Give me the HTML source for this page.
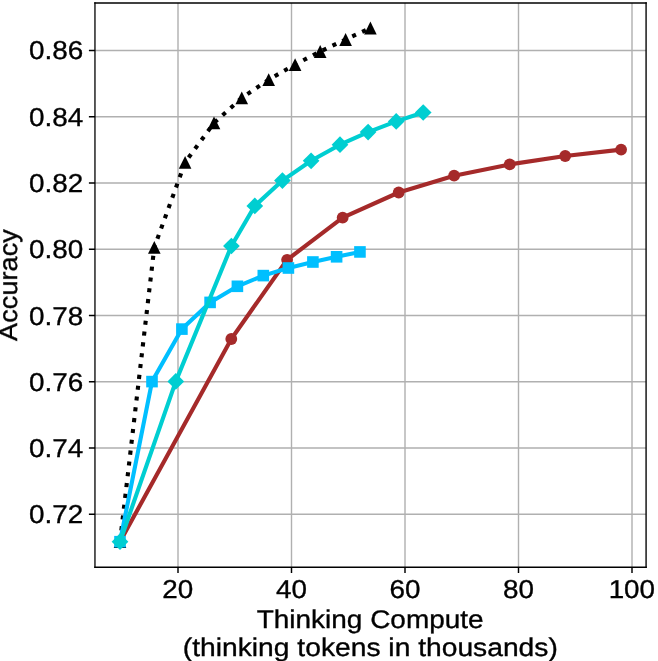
<!DOCTYPE html><html><head><meta charset="utf-8"><style>html,body{margin:0;padding:0;background:#fff;}svg{display:block;}text{font-family:"Liberation Sans",sans-serif;fill:#000;}</style></head><body>
<svg width="658" height="661" viewBox="0 0 658 661">
<rect width="658" height="661" fill="#fff"/>
<path d="M178 3V567.25M291.5 3V567.25M405 3V567.25M518.5 3V567.25M632 3V567.25M94.96 50.44H646.08M94.96 116.7H646.08M94.96 182.96H646.08M94.96 249.22H646.08M94.96 315.48H646.08M94.96 381.74H646.08M94.96 448H646.08M94.96 514.26H646.08" stroke="#b0b0b0" stroke-width="1.4" fill="none"/>
<polyline points="120,541.7 154.3,247.3 185.1,162.4 214,122.9 241.75,97.95 268.7,79.6 295.1,64.55 320.2,51.5 345.6,39.5 370.4,28" fill="none" stroke="#000000" stroke-width="4.11" stroke-dasharray="4.111 6.783" stroke-dashoffset="-0.485" stroke-linejoin="round"/>
<path d="M120 535.3L113.7 548.1L126.3 548.1Z" fill="#000000"/>
<path d="M154.3 240.9L148 253.7L160.6 253.7Z" fill="#000000"/>
<path d="M185.1 156L178.8 168.8L191.4 168.8Z" fill="#000000"/>
<path d="M214 116.5L207.7 129.3L220.3 129.3Z" fill="#000000"/>
<path d="M241.75 91.55L235.45 104.35L248.05 104.35Z" fill="#000000"/>
<path d="M268.7 73.2L262.4 86L275 86Z" fill="#000000"/>
<path d="M295.1 58.15L288.8 70.95L301.4 70.95Z" fill="#000000"/>
<path d="M320.2 45.1L313.9 57.9L326.5 57.9Z" fill="#000000"/>
<path d="M345.6 33.1L339.3 45.9L351.9 45.9Z" fill="#000000"/>
<path d="M370.4 21.6L364.1 34.4L376.7 34.4Z" fill="#000000"/>
<polyline points="120,541.7 231.3,339 287.1,259.8 342.65,217.67 398.7,192.5 454.1,175.7 509.7,164.4 565.2,156 621.1,149.6" fill="none" stroke="#A52A2A" stroke-width="4.12" stroke-linejoin="round" stroke-linecap="butt"/>
<circle cx="120" cy="541.7" r="5.9" fill="#A52A2A"/>
<circle cx="231.3" cy="339" r="5.9" fill="#A52A2A"/>
<circle cx="287.1" cy="259.8" r="5.9" fill="#A52A2A"/>
<circle cx="342.65" cy="217.67" r="5.9" fill="#A52A2A"/>
<circle cx="398.7" cy="192.5" r="5.9" fill="#A52A2A"/>
<circle cx="454.1" cy="175.7" r="5.9" fill="#A52A2A"/>
<circle cx="509.7" cy="164.4" r="5.9" fill="#A52A2A"/>
<circle cx="565.2" cy="156" r="5.9" fill="#A52A2A"/>
<circle cx="621.1" cy="149.6" r="5.9" fill="#A52A2A"/>
<polyline points="120,541.7 152,381.6 181.9,329.1 210.1,302.4 237.4,286.3 263.3,275.6 288.4,268 312.9,262 336.6,256.8 359.95,251.93" fill="none" stroke="#00BFFF" stroke-width="4.12" stroke-linejoin="round"/>
<rect x="114.2" y="535.9" width="11.6" height="11.6" fill="#00BFFF"/>
<rect x="146.2" y="375.8" width="11.6" height="11.6" fill="#00BFFF"/>
<rect x="176.1" y="323.3" width="11.6" height="11.6" fill="#00BFFF"/>
<rect x="204.3" y="296.6" width="11.6" height="11.6" fill="#00BFFF"/>
<rect x="231.6" y="280.5" width="11.6" height="11.6" fill="#00BFFF"/>
<rect x="257.5" y="269.8" width="11.6" height="11.6" fill="#00BFFF"/>
<rect x="282.6" y="262.2" width="11.6" height="11.6" fill="#00BFFF"/>
<rect x="307.1" y="256.2" width="11.6" height="11.6" fill="#00BFFF"/>
<rect x="330.8" y="251" width="11.6" height="11.6" fill="#00BFFF"/>
<rect x="354.15" y="246.13" width="11.6" height="11.6" fill="#00BFFF"/>
<polyline points="120,541.7 175.8,381.4 231.4,246 254.8,205.9 282.4,180.6 311.1,160.8 340,144.7 368.1,132.1 396.2,121.4 423.2,112.5" fill="none" stroke="#00CED1" stroke-width="4.12" stroke-linejoin="round"/>
<path d="M120 533.35L128.35 541.7L120 550.05L111.65 541.7Z" fill="#00CED1"/>
<path d="M175.8 373.05L184.15 381.4L175.8 389.75L167.45 381.4Z" fill="#00CED1"/>
<path d="M231.4 237.65L239.75 246L231.4 254.35L223.05 246Z" fill="#00CED1"/>
<path d="M254.8 197.55L263.15 205.9L254.8 214.25L246.45 205.9Z" fill="#00CED1"/>
<path d="M282.4 172.25L290.75 180.6L282.4 188.95L274.05 180.6Z" fill="#00CED1"/>
<path d="M311.1 152.45L319.45 160.8L311.1 169.15L302.75 160.8Z" fill="#00CED1"/>
<path d="M340 136.35L348.35 144.7L340 153.05L331.65 144.7Z" fill="#00CED1"/>
<path d="M368.1 123.75L376.45 132.1L368.1 140.45L359.75 132.1Z" fill="#00CED1"/>
<path d="M396.2 113.05L404.55 121.4L396.2 129.75L387.85 121.4Z" fill="#00CED1"/>
<path d="M423.2 104.15L431.55 112.5L423.2 120.85L414.85 112.5Z" fill="#00CED1"/>
<path d="M94.26 3H646.78" stroke="#000" stroke-width="1.56" fill="none"/>
<path d="M94.26 567.25H646.78" stroke="#000" stroke-width="1.5" fill="none"/>
<path d="M94.96 2.3V567.95" stroke="#000" stroke-width="1.3" fill="none"/>
<path d="M646.08 2.3V567.95" stroke="#000" stroke-width="1.37" fill="none"/>
<path d="M178 567.25V572.9M291.5 567.25V572.9M405 567.25V572.9M518.5 567.25V572.9M632 567.25V572.9M88.9 50.44H95M88.9 116.7H95M88.9 182.96H95M88.9 249.22H95M88.9 315.48H95M88.9 381.74H95M88.9 448H95M88.9 514.26H95" stroke="#000" stroke-width="1.45" fill="none" stroke-linecap="butt"/>
<g opacity="0.999" stroke="#000" stroke-width="0.35" text-rendering="geometricPrecision">
<text transform="translate(28.89 59) scale(1.0764 1)" font-size="25.9">0.86</text>
<text transform="translate(28.89 126) scale(1.0764 1)" font-size="25.9">0.84</text>
<text transform="translate(28.89 192) scale(1.0764 1)" font-size="25.9">0.82</text>
<text transform="translate(28.89 258) scale(1.0764 1)" font-size="25.9">0.80</text>
<text transform="translate(28.89 325) scale(1.0764 1)" font-size="25.9">0.78</text>
<text transform="translate(28.89 391) scale(1.0764 1)" font-size="25.9">0.76</text>
<text transform="translate(28.89 457) scale(1.0764 1)" font-size="25.9">0.74</text>
<text transform="translate(28.89 523) scale(1.0764 1)" font-size="25.9">0.72</text>
<text transform="translate(162.34 598) scale(1.074 1)" font-size="25.9">20</text>
<text transform="translate(276 598) scale(1.074 1)" font-size="25.9">40</text>
<text transform="translate(389.48 598) scale(1.074 1)" font-size="25.9">60</text>
<text transform="translate(502.94 598) scale(1.074 1)" font-size="25.9">80</text>
<text transform="translate(608.65 598) scale(1.074 1)" font-size="25.9">100</text>
<text transform="translate(256.7 628) scale(1.0966 1)" font-size="25.5">Thinking Compute</text>
<text transform="translate(182.83 656) scale(1.1069 1)" font-size="25.5">(thinking tokens in thousands)</text>
<text transform="translate(17 341.02) rotate(-90) scale(1.0659 1)" font-size="25.5">Accuracy</text>
</g>
</svg></body></html>
